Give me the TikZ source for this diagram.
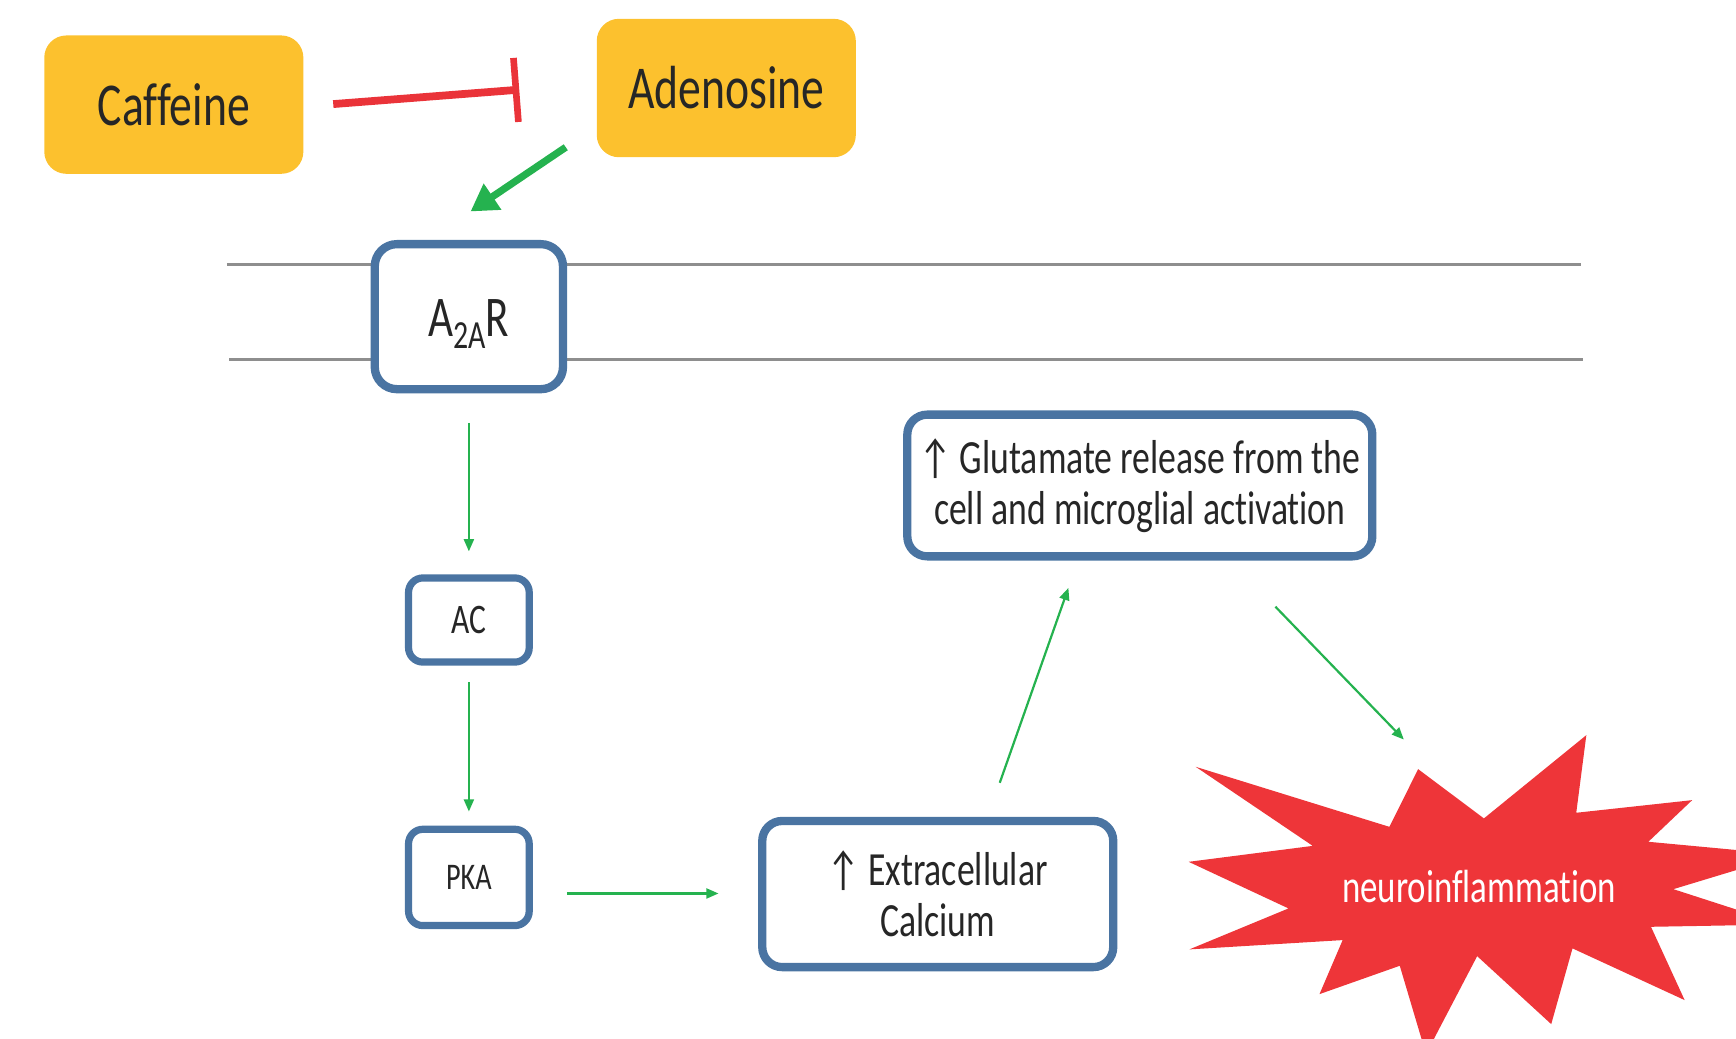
\documentclass[tikz,border=0pt]{standalone}
\usepackage{fontspec}
\setmainfont{Carlito}[FakeStretch=0.75,Ligatures=NoCommon]
\usetikzlibrary{arrows.meta,calc}
\definecolor{boxyellow}{HTML}{FCC12E}
\definecolor{boxblue}{HTML}{4A74A2}
\definecolor{inhred}{HTML}{EA3339}
\definecolor{burstred}{HTML}{EE3539}
\definecolor{arrgreen}{HTML}{25B24F}
\definecolor{memgray}{HTML}{8E8E8E}
\definecolor{txtdark}{HTML}{262626}
\begin{document}
\begin{tikzpicture}[x=1pt,y=-1pt,
  yellowbox/.style={fill=boxyellow, rounded corners=20pt, inner sep=0pt, text=txtdark,
    minimum width=234pt, minimum height=125pt, font=\fontsize{55}{60}\selectfont},
  bluebox/.style={draw=boxblue, line width=7.5pt, fill=white, rounded corners=18pt,
    inner sep=0pt, text=txtdark, align=center},
  thinarrow/.style={draw=arrgreen, line width=2pt, -{Triangle[length=11pt,width=9pt]}},
  thickarrow/.style={draw=arrgreen, line width=6.5pt, -{Triangle[length=24pt,width=27pt]}},
  inhibit/.style={draw=inhred, line width=7pt, -{Bar[width=58pt,line width=6pt]}},
  membrane/.style={draw=memgray, line width=2.5pt}
]
\useasboundingbox (0,0) rectangle (1568,938);
\clip (0,0) rectangle (1568,938);

% membrane
\draw[membrane] (205,239) -- (1428,239);
\draw[membrane] (207,325) -- (1430,325);

% starburst
\fill[burstred] (1080.0,692.6) -- (1254.9,746.8) -- (1280.9,694.7) -- (1340.3,739.2)
  -- (1432.8,664.0) -- (1423.7,734.1) -- (1528.4,722.7) -- (1488.8,760.3)
  -- (1614,772) -- (1511.4,803.1) -- (1610,835) -- (1491.2,837.1)
  -- (1521.6,903.3) -- (1420.3,856.6) -- (1401.1,925.0) -- (1334.2,863.6)
  -- (1288,952) -- (1264.3,872.3) -- (1191.8,897.9) -- (1212.7,849.1)
  -- (1074.3,857.5) -- (1163.8,820.5) -- (1073.6,778.4) -- (1185.7,764.0) -- cycle;
\node[text=white, font=\fontsize{42}{46}\selectfont] (neuro) at (1336,801) {neuroinflammation};
\coordinate (burstin) at (1268,668);

% nodes
\node[yellowbox] (caff) at (157,94.5) {Caffeine};
\node[yellowbox] (aden) at (656,79.5) {Adenosine};

\node[bluebox, rounded corners=20pt, minimum width=170pt, minimum height=131pt,
  font=\fontsize{52}{58}\selectfont] (a2ar) at (423.5,286)
  {\rule{0pt}{47pt}A\raisebox{-11pt}{\fontsize{36}{40}\selectfont 2A}R};
\node[bluebox, line width=6.5pt, rounded corners=13pt, minimum width=109pt, minimum height=76pt,
  font=\fontsize{38}{42}\selectfont] (ac) at (423.5,560) {AC};
\node[bluebox, line width=6.5pt, rounded corners=13pt, minimum width=109pt, minimum height=87pt,
  font=\fontsize{34}{38}\selectfont] (pka) at (423.5,792.5) {PKA};
\node[bluebox, minimum width=317pt, minimum height=132pt,
  font=\fontsize{43}{46}\selectfont] (ext) at (847,807.5) {↑ Extracellular\\Calcium};
\node[bluebox, minimum width=420pt, minimum height=128pt,
  font=\fontsize{43}{46}\selectfont] (glut) at (1029.5,438.5)
  {↑ Glutamate release from the\\cell and microglial activation};

% connectors
\draw[inhibit] ($(caff.center)+(144,-0.5)$) -- ($(aden.center)+(-187,1.5)$);
\draw[thickarrow] ($(aden.center)+(-145,53.5)$) -- ($(a2ar.center)+(1.5,-95)$);
\draw[thinarrow] ($(a2ar.center)+(0,96)$) -- ($(ac.center)+(0,-62)$);
\draw[thinarrow] ($(ac.center)+(0,56)$) -- ($(pka.center)+(0,-59.5)$);
\draw[thinarrow] ($(pka.center)+(88.5,14.5)$) -- ($(ext.center)+(-198,-0.5)$);
\draw[thinarrow] ($(ext.center)+(56,-100.5)$) -- ($(glut.center)+(-64.5,92.5)$);
\draw[thinarrow] ($(glut.center)+(122.5,109.5)$) -- (burstin);
\end{tikzpicture}
\end{document}
